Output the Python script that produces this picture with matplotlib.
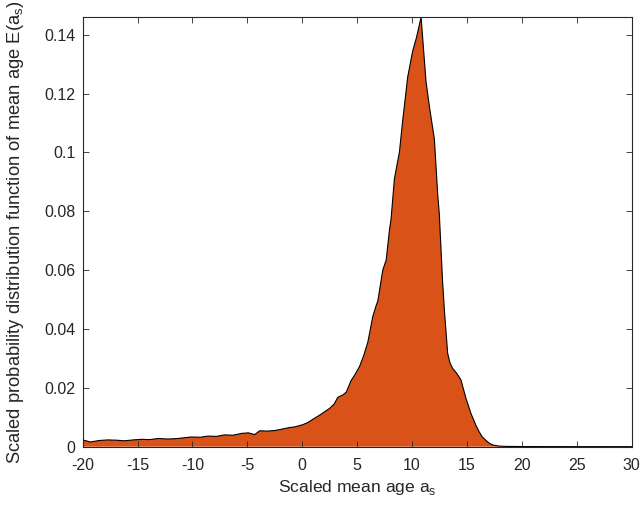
import numpy as np
import matplotlib
matplotlib.use("Agg")
import matplotlib.pyplot as plt

plt.rcParams['font.family'] = ['Liberation Sans', 'DejaVu Sans']
plt.rcParams['mathtext.fontset'] = 'custom'
plt.rcParams['mathtext.rm'] = 'Liberation Sans'

# scaled mean age and pdf values
age = [-20, -19.3, -18.5, -17.7, -16.9, -16.2, -15.4, -14.6, -13.9, -13.1, -12.3,
       -11.6, -10.8, -10.1, -9.3, -8.6, -7.8, -7.1, -6.3, -5.55, -4.9, -4.34, -3.88,
       -3.2, -2.5, -2.06, -1.3, -0.6, 0.06, 0.5, 0.96, 1.7, 2.48, 2.9, 3.24, 3.7,
       4.0, 4.45, 4.8, 5.21, 5.6, 5.97, 6.42, 6.73, 6.88, 7.33, 7.64, 7.94, 8.09,
       8.39, 8.85, 9.15, 9.6, 10.06, 10.4, 10.82, 11.27, 11.6, 12.03, 12.33, 12.48,
       12.78, 12.94, 13.24, 13.45, 13.69, 14.05, 14.45, 14.9, 15.36, 15.82, 16.1,
       16.4, 16.73, 17.03, 17.33, 17.9, 18.5, 20, 22, 25, 28, 30]
pdf = [0.0023, 0.0016, 0.0021, 0.0023, 0.0022, 0.0020, 0.0023, 0.0025, 0.0024,
       0.0028, 0.0026, 0.0027, 0.0030, 0.0033, 0.0032, 0.0036, 0.0035, 0.0040,
       0.0039, 0.0045, 0.0047, 0.0041, 0.0054, 0.0053, 0.0055, 0.0058, 0.0064,
       0.0068, 0.0075, 0.0082, 0.0093, 0.0110, 0.0130, 0.0145, 0.0168, 0.0176,
       0.0185, 0.0225, 0.0245, 0.0272, 0.0310, 0.0355, 0.0442, 0.0480, 0.0495,
       0.0600, 0.0634, 0.0736, 0.0775, 0.0910, 0.1002, 0.1110, 0.1256, 0.1345,
       0.1390, 0.1459, 0.1240, 0.1150, 0.1045, 0.0860, 0.0790, 0.0560, 0.0465,
       0.0317, 0.0285, 0.0266, 0.0250, 0.0227, 0.0165, 0.0113, 0.0072, 0.0051,
       0.0033, 0.0021, 0.0012, 0.0006, 0.0002, 0.0001, 0.00005, 0.00003, 0.00002,
       0.00001, 0.00001]

xtick_vals = np.arange(-20, 31, 5)
ytick_vals = [0, 0.02, 0.04, 0.06, 0.08, 0.1, 0.12, 0.14]
ytick_labels = ['0', '0.02', '0.04', '0.06', '0.08', '0.1', '0.12', '0.14']

fig = plt.figure(figsize=(6.4, 5.08), dpi=100)
ax = fig.add_axes([0.1292, 0.1207, 0.8578, 0.8453])

ax.fill_between(age, pdf, 0, facecolor='#D95319', edgecolor='none')
ax.plot(age, pdf, color='black', lw=0.8)

ax.set_xlim(-20, 30)
ax.set_ylim(0, 0.1459)
ax.set_xticks(xtick_vals)
ax.set_xticklabels([str(v) for v in xtick_vals])
ax.set_yticks(ytick_vals)
ax.set_yticklabels(ytick_labels)

gray = '#262626'
for s in ax.spines.values():
    s.set_color(gray)
    s.set_linewidth(0.8)
ax.tick_params(direction='in', top=True, right=True, length=4, width=0.6,
               colors=gray, labelsize=11.5, labelcolor=gray)
ax.tick_params(axis='x', pad=8)
ax.tick_params(axis='y', pad=5)

ax.set_xlabel(r'Scaled mean age a$_\mathrm{s}$', fontsize=12.6, color=gray)
ax.set_ylabel(r'Scaled probability distribution function of mean age E(a$_\mathrm{s}$)',
              fontsize=13.2, color=gray)
ax.xaxis.set_label_coords(0.5, -0.072)
ax.yaxis.set_label_coords(-0.104, 0.5)

fig.savefig('out.png', dpi=100)
